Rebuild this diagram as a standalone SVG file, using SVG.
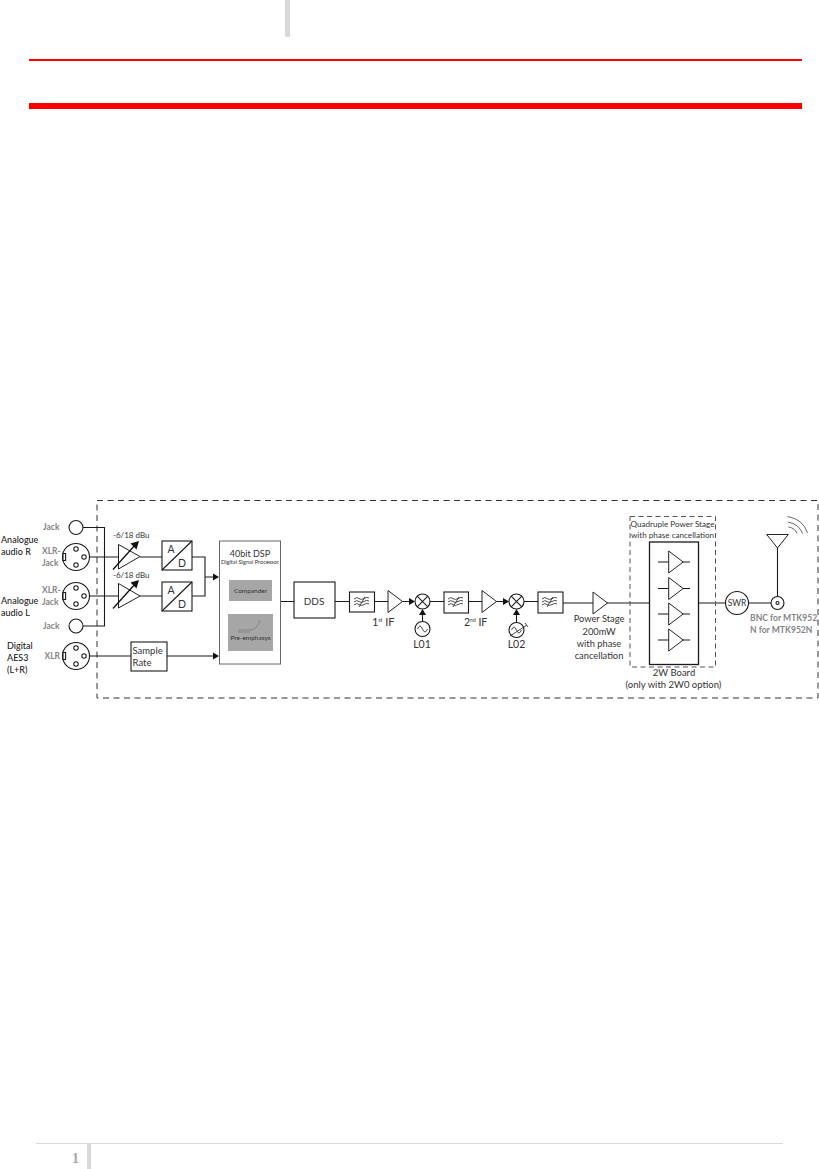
<svg xmlns="http://www.w3.org/2000/svg" width="819" height="1169" viewBox="0 0 819 1169">
<style>
text{font-family:"Lato","Liberation Sans",sans-serif;fill:#333;font-size:9.5px}
.g{fill:#858585;font-weight:bold;font-size:8.500px}
.l{font-size:9px;fill:#222;font-weight:500}
.m{text-anchor:middle}
.k{fill:none;stroke:#1a1a1a;stroke-width:1.100}
.b{fill:#fff;stroke:#1a1a1a;stroke-width:1.100}
.t{fill:#fff;stroke:#222;stroke-width:1}
.h{fill:none;stroke:#222;stroke-width:.8}
.a{fill:#111}
</style>
<defs>
<g id="xlr"><circle r="13.500" class="b"/><circle cx="0" cy="-8" r="2.200" class="b"/><circle cx="8" cy="0" r="2.200" class="b"/><circle cx="0" cy="8" r="2.200" class="b"/><rect x="-13" y="-3.500" width="2.600" height="7" class="b"/></g>
<g id="flt"><path class="h" d="M-8-3q3-2.500 5-.5t5 0 5-.5M-8 0q3-2.500 5-.5t5 0 5-.5M-8 3q3-2.500 5-.5t5 0 5-.5M-3 5 3-5"/></g>
<g id="mix"><circle r="7.500" class="b"/><path class="k" d="M-5.300-5.300 5.300 5.300M-5.300 5.300 5.300-5.300"/></g>
<polygon id="amp" points="0,-11 14.500,0 0,11" class="t"/>
</defs>
<g id="page">
<rect x="285" y="0" width="5" height="37" fill="#d9d9d9"/>
<rect x="29" y="59" width="773" height="2" fill="#f00"/>
<rect x="29" y="103" width="773" height="6" fill="#f00"/>
<rect x="36" y="1143" width="747" height="1" fill="#d9d9d9"/>
<rect x="87" y="1144" width="4" height="25" fill="#d9d9d9"/>
<text x="75.500" y="1163" class="m" style="font-family:'Liberation Serif',serif;font-weight:bold;font-size:14px;fill:#a6a6a6">1</text>
</g>
<g id="connectors">
<rect x="97" y="500.500" width="721" height="197.500" fill="none" stroke="#333" stroke-width="1" stroke-dasharray="6 4.500"/>
<path class="k" d="M83 527.500H104.500V626H83M89.500 557H118M89.500 596H118M104.500 557V596M140 557H162M140 596H162M192 557H205V596H192M205 577H214M89.500 656H131M167 656H214M281 601.500H294M335 601.500H349M374 601.500H388M402 601.500H410M430 601.500H444M468 601.500H482M496 601.500H504M524 601.500H538M563 603H593M607 603H649M699 603H726M748 603H771M777.500 596.500V548M422.500 621.500V614M516.500 622V614"/>
<path class="a" d="M219 577l-6-3.500v7zM219 656l-6-3.500v7zM415 601.500l-6-3.500v7zM509 601.500l-6-3.500v7zM422.500 609l-3.500 6h7zM516.500 609l-3.500 6h7z"/>
</g>
<g id="jack-r"><circle cx="76" cy="527.500" r="7" class="b"/><text x="43" y="529.500" class="g">Jack</text></g>
<g id="xlr-r"><use href="#xlr" x="76" y="557"/><text x="42" y="554" class="g">XLR-</text><text x="42" y="566" class="g">Jack</text></g>
<g id="xlr-l"><use href="#xlr" x="76" y="596"/><text x="42" y="593" class="g">XLR-</text><text x="42" y="605" class="g">Jack</text></g>
<g id="jack-l"><circle cx="76" cy="626" r="7" class="b"/><text x="43" y="628.500" class="g">Jack</text></g>
<g id="xlr-d"><use href="#xlr" x="76" y="656"/><text x="44.500" y="659" class="g">XLR</text></g>
<g id="labels-in">
<text x="1" y="543" class="l">Analogue</text><text x="1" y="555" class="l">audio R</text>
<text x="1" y="604" class="l">Analogue</text><text x="1" y="616" class="l">audio L</text>
<text x="7" y="649" class="l">Digital</text><text x="7" y="661" class="l">AES3</text><text x="7" y="673" class="l">(L+R)</text>
</g>
<g id="amp-r"><polygon points="118.500,544.500 118.500,569 140,556.500" class="t"/><path d="M113 569.500 136 544" fill="none" stroke="#111" stroke-width="1.300"/><path d="M139 541l-8.500 2.500 6 6z" class="a"/><text x="113" y="538" style="font-size:8px">-6/18 dBu</text></g>
<g id="amp-l"><polygon points="118.500,583.500 118.500,608 140,596" class="t"/><path d="M113 608.500 136 583" fill="none" stroke="#111" stroke-width="1.300"/><path d="M139 580l-8.500 2.500 6 6z" class="a"/><text x="113" y="578" style="font-size:8px">-6/18 dBu</text></g>
<g id="ad-r"><rect x="162" y="541" width="30" height="29" class="b"/><path class="k" d="M162 570 192 541"/><text x="171" y="553" class="m" style="font-size:10.500px">A</text><text x="182" y="567" class="m" style="font-size:10.500px">D</text></g>
<g id="ad-l"><rect x="162" y="582" width="30" height="29" class="b"/><path class="k" d="M162 611 192 582"/><text x="171" y="594" class="m" style="font-size:10.500px">A</text><text x="182" y="608" class="m" style="font-size:10.500px">D</text></g>
<g id="sample-rate"><rect x="131" y="642" width="36" height="29" class="b"/><text x="132.500" y="653.500" style="font-size:9.500px">Sample</text><text x="132.500" y="665.500" style="font-size:9.500px">Rate</text></g>
<g id="dsp"><rect x="219.500" y="541" width="61" height="123" fill="#fff" stroke="#666"/>
<text x="250" y="557" class="m" style="font-size:9px">40bit DSP</text><text x="250" y="564" class="m" style="font-size:5.700px">Digital Signal Processor</text>
<rect x="229" y="580" width="43" height="21" fill="#a6a6a6"/><text x="250.500" y="593" class="m" style="font-size:6.500px">Compander</text>
<rect x="228" y="614" width="45" height="37" fill="#a6a6a6"/><path d="M238 630H250Q257 630 260 620M238 632H250" fill="none" stroke="#666" stroke-width=".5"/><text x="250.500" y="640" class="m" style="font-size:6.500px;fill:#333">Pre-emphasys</text></g>
<g id="dds"><rect x="294" y="582" width="41" height="36" class="b"/><text x="314" y="605" class="m" style="font-size:10px">DDS</text></g>
<g id="filter-1"><rect x="349.500" y="592" width="25" height="20" class="b"/><use href="#flt" x="362" y="602"/></g>
<g id="if-1"><use href="#amp" x="388" y="601.500"/><text x="372" y="626" style="font-size:11px">1<tspan dy="-4" style="font-size:5px">st</tspan><tspan dy="4"> IF</tspan></text></g>
<g id="mixer-1"><use href="#mix" x="422.500" y="601.500"/></g>
<g id="lo1"><circle cx="422.500" cy="629" r="7.500" class="b"/><path class="h" d="M417.500 629q2.500-6 5 0t5 0"/><text x="422" y="648" class="m" style="font-size:10.500px">L01</text></g>
<g id="filter-2"><rect x="444" y="592" width="24.500" height="21" class="b"/><use href="#flt" x="456" y="602"/></g>
<g id="if-2"><use href="#amp" x="482" y="601.500"/><text x="464" y="626" style="font-size:10.500px">2<tspan dy="-4" style="font-size:5px">nd</tspan><tspan dy="4"> IF</tspan></text></g>
<g id="mixer-2"><use href="#mix" x="516.500" y="601.500"/></g>
<g id="lo2"><circle cx="516.500" cy="630" r="7.500" class="b"/><path class="h" d="M511.500 630q2.500-6 5 0t5 0M510 636 527 625"/><path class="h" d="M525 623l3 4"/><text x="516.500" y="648" class="m" style="font-size:10.500px">L02</text></g>
<g id="filter-3"><rect x="538" y="592" width="25" height="21" class="b"/><use href="#flt" x="550" y="602"/></g>
<g id="power-stage"><use href="#amp" x="593" y="603"/><text x="599" y="622" class="m" style="font-size:9.300px">Power Stage</text><text x="599" y="635" class="m" style="font-size:9.300px">200mW</text><text x="599" y="647" class="m" style="font-size:9.300px">with phase</text><text x="599" y="659" class="m" style="font-size:9.300px">cancellation</text></g>
<g id="board">
<rect x="630" y="516.500" width="85.500" height="150.500" fill="none" stroke="#555" stroke-width="1" stroke-dasharray="5 3.500"/>
<rect x="649.500" y="542" width="49" height="122.500" fill="#fff" stroke="#1a1a1a" stroke-width="1.300"/>
<path class="k" d="M658 562H669M683 562H690M658 588.500H669M683 588.500H690M658 614H669M683 614H690M658 640H669M683 640H690"/>
<use href="#amp" x="668.700" y="562"/><use href="#amp" x="668.700" y="588.500"/><use href="#amp" x="668.700" y="614"/><use href="#amp" x="668.700" y="640"/>
<text x="672.500" y="527" class="m" style="font-size:8.100px">Quadruple Power Stage</text><text x="672.500" y="538" class="m" style="font-size:8.100px">with phase cancellation</text>
<text x="674" y="676" class="m" style="font-size:9.500px">2W Board</text><text x="673.500" y="688" class="m" style="font-size:9.500px">(only with 2W0 option)</text>
</g>
<g id="swr"><circle cx="737" cy="603" r="11.500" class="b"/><text x="737" y="606" class="m" style="font-size:8.500px">SWR</text></g>
<g id="bnc"><circle cx="777.500" cy="603" r="6.500" class="b"/><circle cx="777.500" cy="603" r="1.500" class="k"/><text x="750" y="621" class="g" style="font-size:8.600px">BNC for MTK952</text><text x="750" y="633" class="g" style="font-size:8.600px">N for MTK952N</text></g>
<g id="antenna"><polygon points="766.700,534.500 788.300,534.500 777.500,548" class="t"/><path d="M787.500 516.500Q803 519 807.500 533M788 522Q799 524 802.500 533.500M788.500 527Q795 528 797 533.500" fill="none" stroke="#555" stroke-width=".9"/></g>
</svg>
